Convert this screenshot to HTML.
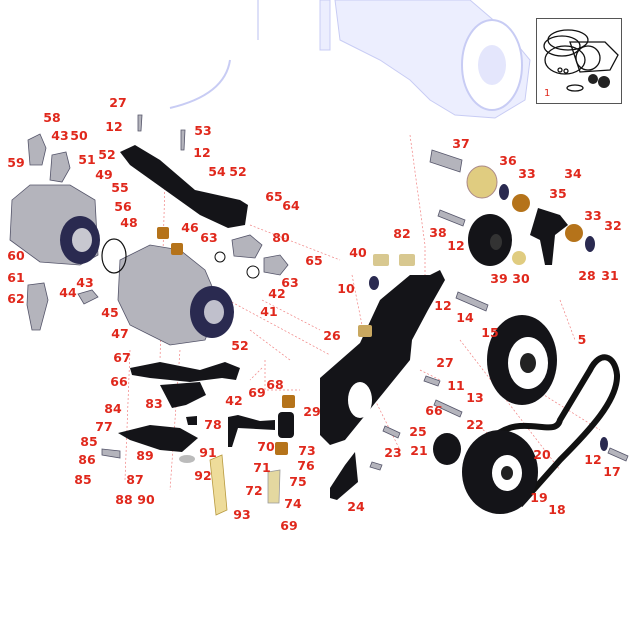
<!DOCTYPE html>
<html><head><meta charset="utf-8"><style>
html,body{margin:0;padding:0;background:#fff;}
svg{display:block}
.l{font-family:"DejaVu Sans","Liberation Sans",sans-serif;font-weight:bold;font-size:12.5px;fill:#e0281c;text-anchor:middle}
.ld{stroke:#e66;stroke-width:0.6;fill:none}
.dash{stroke:#f08080;stroke-width:0.7;stroke-dasharray:2,2;fill:none}
.blk{fill:#141418}
.gry{fill:#b4b4bc;stroke:#55556a;stroke-width:0.8}
.nv{fill:#2a2a50}
.br{fill:#b5731a}
.lav{fill:#eceefe;stroke:#c8ccf4;stroke-width:1}
</style></head><body>
<svg width="643" height="643" viewBox="0 0 643 643" xmlns="http://www.w3.org/2000/svg">
<!-- top faint machine -->
<path class="lav" d="M320 0 L330 0 L330 50 L320 50 Z"/>
<path class="lav" d="M335 0 L470 0 L505 30 L530 60 L525 100 L495 118 L455 115 L430 100 L410 80 L380 60 L340 40 Z"/>
<ellipse cx="492" cy="65" rx="30" ry="45" fill="#fff" stroke="#c8ccf4" stroke-width="2"/>
<ellipse cx="492" cy="65" rx="14" ry="20" fill="#e4e6fc"/>
<path d="M230 60 Q225 95 170 108" stroke="#c8ccf4" stroke-width="2" fill="none"/>
<path d="M258 0 L258 40" stroke="#dde0f8" stroke-width="2"/>
<!-- inset -->
<rect x="536.5" y="18.5" width="85" height="85" fill="#fff" stroke="#555" stroke-width="1"/>
<g fill="none" stroke="#111" stroke-width="1.3">
<ellipse cx="568" cy="40" rx="20" ry="10"/><ellipse cx="562" cy="46" rx="18" ry="10"/>
<path d="M570 42 L605 42 L618 55 L610 70 L580 72 Z"/>
<ellipse cx="565" cy="60" rx="20" ry="14"/><ellipse cx="588" cy="58" rx="12" ry="12"/>
<circle cx="560" cy="70" r="2"/><circle cx="566" cy="71" r="2"/><ellipse cx="575" cy="88" rx="8" ry="3"/>
</g>
<circle cx="593" cy="79" r="5" fill="#222"/><circle cx="604" cy="82" r="6" fill="#222"/>
<text x="544" y="96" style="font-family:'DejaVu Sans',sans-serif;font-size:10px;fill:#e0281c">1</text>

<!-- dashed leader lines -->
<path class="dash" d="M200 285 L330 355 M250 330 L290 360 M410 135 L425 245 L425 310 M262 368 L250 380 M262 300 L320 330 M250 225 L340 260 M352 275 L365 340 M460 340 L560 470 M470 420 L510 450 M375 400 L400 450 M560 300 L575 340 M528 385 L600 430 M420 370 L440 380"/>
<path class="dash" d="M165 180 L160 360 M130 350 L125 480 M180 350 L170 490 M265 360 L265 390 L300 390"/>

<!-- left motor -->
<path class="gry" d="M12 200 L30 185 L70 185 L95 200 L98 255 L80 265 L40 262 L10 240 Z"/>
<ellipse class="nv" cx="80" cy="240" rx="20" ry="24"/>
<ellipse cx="82" cy="240" rx="10" ry="12" fill="#c8c8d0"/>
<path class="gry" d="M28 140 L40 134 L46 148 L42 165 L30 165 Z"/>
<path class="gry" d="M52 155 L66 152 L70 168 L62 182 L50 180 Z"/>
<path class="gry" d="M28 285 L44 283 L48 300 L40 330 L32 330 L27 305 Z"/>
<path class="gry" d="M78 294 L92 290 L98 297 L84 304 Z"/>
<path class="gry" d="M120 260 L150 245 L180 250 L205 270 L220 305 L205 340 L170 345 L150 335 L130 325 L118 300 Z"/>
<ellipse class="nv" cx="212" cy="312" rx="22" ry="26"/><ellipse cx="214" cy="312" rx="10" ry="12" fill="#c0c0cc"/>
<ellipse cx="114" cy="256" rx="12" ry="17" fill="none" stroke="#111" stroke-width="1.2"/>
<!-- fittings -->
<path class="gry" d="M232 240 L250 235 L262 245 L255 258 L234 256 Z"/>
<path class="gry" d="M264 258 L280 255 L288 265 L280 275 L264 272 Z"/>
<circle cx="220" cy="257" r="5" fill="none" stroke="#111"/><circle cx="253" cy="272" r="6" fill="none" stroke="#111"/>
<rect class="br" x="157" y="227" width="12" height="12" rx="2"/><rect class="br" x="171" y="243" width="12" height="12" rx="2"/>
<!-- bracket 54 -->
<path class="blk" d="M120 152 L135 145 L160 160 L195 190 L240 200 L248 205 L245 225 L228 228 L200 215 L165 190 L130 165 Z"/>
<path class="gry" d="M138 115 L142 115 L141 131 L138 131 Z"/><path class="gry" d="M181 130 L185 130 L184 150 L181 150 Z"/>
<!-- left lower brackets -->
<path class="blk" d="M130 368 L160 362 L200 370 L225 362 L240 368 L236 380 L222 378 L190 382 L150 378 L132 375 Z"/>
<path class="blk" d="M160 385 L200 382 L206 395 L186 405 L172 408 Z"/>
<path class="blk" d="M118 433 L150 425 L180 428 L198 438 L182 452 L160 450 L130 440 Z"/>
<path class="blk" d="M186 417 L197 416 L197 425 L188 425 Z"/>
<path class="blk" d="M228 417 L238 415 L260 421 L275 420 L275 430 L238 428 L232 447 L228 447 Z"/>
<rect x="278" y="412" width="16" height="26" rx="4" class="blk"/>
<rect class="br" x="282" y="395" width="13" height="13" rx="2"/><rect class="br" x="275" y="442" width="13" height="13" rx="2"/>
<path d="M210 460 L222 455 L227 510 L216 515 Z" fill="#eedc9a" stroke="#b89a40" stroke-width="0.8"/>
<path d="M268 472 L280 470 L279 503 L268 503 Z" fill="#e4d8a0" stroke="#999" stroke-width="0.8"/>
<ellipse cx="187" cy="459" rx="8" ry="4" fill="#bbb"/>
<path class="gry" d="M102 449 L120 451 L120 458 L102 455 Z" fill="#e4d070"/>

<!-- center plate -->
<path class="blk" d="M320 378 L360 343 L380 300 L410 275 L430 275 L440 270 L445 280 L428 310 L412 340 L410 360 L345 440 L330 445 L320 435 Z"/>
<ellipse cx="360" cy="400" rx="12" ry="18" fill="#fff"/>
<path class="blk" d="M330 488 L345 465 L355 452 L358 482 L337 500 L330 498 Z"/>
<rect x="373" y="254" width="16" height="12" fill="#d8c890" rx="2"/><rect x="399" y="254" width="16" height="12" fill="#d8c890" rx="2"/>
<rect x="358" y="325" width="14" height="12" fill="#c9a860" rx="2"/>
<ellipse class="nv" cx="374" cy="283" rx="5" ry="7"/>
<!-- right parts -->
<path class="gry" d="M432 150 L462 160 L460 172 L430 162 Z"/>
<ellipse cx="482" cy="182" rx="15" ry="16" fill="#e0cc80" stroke="#a88" stroke-width="1"/>
<ellipse class="br" cx="521" cy="203" rx="9" ry="9"/>
<path class="blk" d="M538 208 L560 215 L568 225 L555 235 L552 265 L545 265 L540 240 L530 235 Z"/>
<ellipse class="br" cx="574" cy="233" rx="9" ry="9"/>
<ellipse class="blk" cx="490" cy="240" rx="22" ry="26"/><ellipse cx="496" cy="242" rx="6" ry="8" fill="#333"/>
<ellipse cx="519" cy="258" rx="7" ry="7" fill="#e0cc80"/>
<ellipse class="nv" cx="504" cy="192" rx="5" ry="8"/><ellipse class="nv" cx="590" cy="244" rx="5" ry="8"/>
<path class="gry" d="M458 292 L488 305 L486 311 L456 298 Z"/>
<path class="gry" d="M440 210 L465 220 L463 226 L438 216 Z"/>
<!-- pulley 15 -->
<ellipse class="blk" cx="522" cy="360" rx="35" ry="45"/><ellipse cx="528" cy="363" rx="20" ry="26" fill="#fff"/>
<ellipse cx="528" cy="363" rx="8" ry="10" fill="#222"/>
<!-- belt -->
<path d="M490 440 C520 410 555 440 560 420 L590 370 C600 350 615 355 617 375 C618 400 590 430 560 460 L520 505" fill="none" stroke="#111" stroke-width="6"/>
<ellipse class="blk" cx="500" cy="472" rx="38" ry="42"/><ellipse cx="507" cy="473" rx="15" ry="18" fill="#fff"/>
<ellipse cx="507" cy="473" rx="6" ry="7" fill="#222"/>
<ellipse class="blk" cx="447" cy="449" rx="14" ry="16"/>
<ellipse class="nv" cx="604" cy="444" rx="4" ry="7"/>
<path class="gry" d="M610 448 L628 456 L626 461 L608 453 Z"/>
<path class="gry" d="M372 462 L382 465 L380 470 L370 467 Z"/>
<path class="gry" d="M385 426 L400 433 L398 438 L383 431 Z"/>
<path class="gry" d="M436 400 L462 412 L460 417 L434 405 Z"/>
<path class="gry" d="M426 376 L440 381 L438 386 L424 381 Z"/>

<!-- labels -->
<g class="l">
<text x="118" y="107">27</text><text x="114" y="131">12</text><text x="203" y="135">53</text><text x="202" y="157">12</text>
<text x="52" y="122">58</text><text x="60" y="140">43</text><text x="79" y="140">50</text><text x="107" y="159">52</text>
<text x="16" y="167">59</text><text x="87" y="164">51</text><text x="104" y="179">49</text><text x="120" y="192">55</text>
<text x="123" y="211">56</text><text x="217" y="176">54</text><text x="238" y="176">52</text><text x="274" y="201">65</text>
<text x="291" y="210">64</text><text x="129" y="227">48</text><text x="190" y="232">46</text><text x="209" y="242">63</text>
<text x="281" y="242">80</text><text x="16" y="260">60</text><text x="314" y="265">65</text><text x="290" y="287">63</text>
<text x="277" y="298">42</text><text x="16" y="282">61</text><text x="85" y="287">43</text><text x="68" y="297">44</text>
<text x="16" y="303">62</text><text x="110" y="317">45</text><text x="269" y="316">41</text><text x="120" y="338">47</text>
<text x="240" y="350">52</text><text x="122" y="362">67</text><text x="119" y="386">66</text><text x="154" y="408">83</text>
<text x="234" y="405">42</text><text x="113" y="413">84</text><text x="213" y="429">78</text><text x="104" y="431">77</text>
<text x="89" y="446">85</text><text x="145" y="460">89</text><text x="208" y="457">91</text><text x="87" y="464">86</text>
<text x="135" y="484">87</text><text x="203" y="480">92</text><text x="83" y="484">85</text><text x="124" y="504">88</text>
<text x="146" y="504">90</text><text x="242" y="519">93</text><text x="257" y="397">69</text><text x="275" y="389">68</text>
<text x="312" y="416">29</text><text x="266" y="451">70</text><text x="262" y="472">71</text><text x="307" y="455">73</text>
<text x="306" y="470">76</text><text x="298" y="486">75</text><text x="254" y="495">72</text><text x="293" y="508">74</text>
<text x="289" y="530">69</text><text x="461" y="148">37</text><text x="508" y="165">36</text><text x="527" y="178">33</text>
<text x="573" y="178">34</text><text x="558" y="198">35</text><text x="593" y="220">33</text><text x="613" y="230">32</text>
<text x="438" y="237">38</text><text x="456" y="250">12</text><text x="358" y="257">40</text><text x="402" y="238">82</text>
<text x="499" y="283">39</text><text x="521" y="283">30</text><text x="587" y="280">28</text><text x="610" y="280">31</text>
<text x="346" y="293">10</text><text x="443" y="310">12</text><text x="465" y="322">14</text><text x="490" y="337">15</text>
<text x="582" y="344">5</text><text x="332" y="340">26</text><text x="445" y="367">27</text><text x="456" y="390">11</text>
<text x="475" y="402">13</text><text x="434" y="415">66</text><text x="475" y="429">22</text><text x="418" y="436">25</text>
<text x="419" y="455">21</text><text x="393" y="457">23</text><text x="542" y="459">20</text><text x="593" y="464">12</text>
<text x="612" y="476">17</text><text x="539" y="502">19</text><text x="557" y="514">18</text><text x="356" y="511">24</text>
</g>
</svg>
</body></html>
